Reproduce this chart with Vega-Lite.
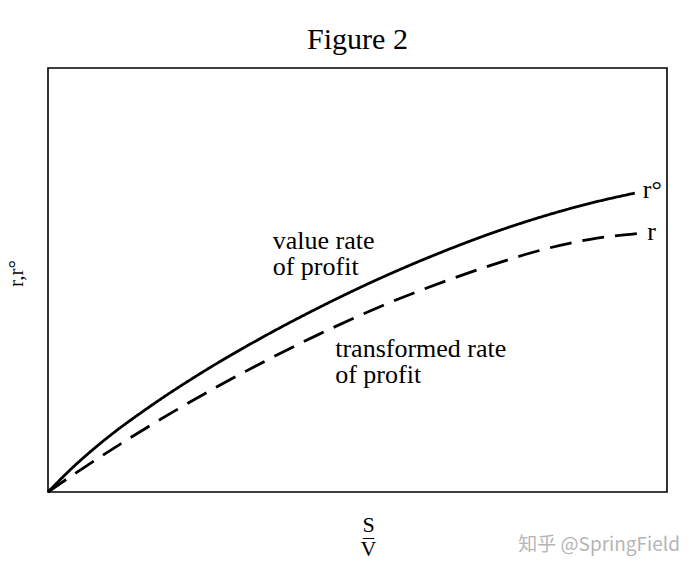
{
  "$schema": "https://vega.github.io/schema/vega-lite/v6.json",
  "width": 619,
  "height": 424,
  "autosize": {"type": "none"},
  "padding": {"left": 48, "top": 68, "right": 27, "bottom": 82},
  "background": "white",
  "title": {"text": "Figure 2", "font": "Liberation Serif", "fontSize": 30, "fontWeight": "normal", "color": "black", "anchor": "middle", "offset": 13},
  "config": {"view": {"stroke": "black", "strokeWidth": 1.6}},
  "datasets": {
    "curves": [
      {"series": "value", "x": 0, "y": 0},
      {"series": "value", "x": 4.0, "y": 5.8},
      {"series": "value", "x": 9.5, "y": 12.7},
      {"series": "value", "x": 16.5, "y": 20.2},
      {"series": "value", "x": 25.0, "y": 28.3},
      {"series": "value", "x": 33.8, "y": 35.8},
      {"series": "value", "x": 43.5, "y": 43.3},
      {"series": "value", "x": 54.1, "y": 50.7},
      {"series": "value", "x": 64.5, "y": 57.1},
      {"series": "value", "x": 71.4, "y": 60.9},
      {"series": "value", "x": 79.5, "y": 64.8},
      {"series": "value", "x": 87.6, "y": 68.1},
      {"series": "value", "x": 94.8, "y": 70.5},
      {"series": "transformed", "x": 0, "y": 0},
      {"series": "transformed", "x": 4.0, "y": 4.0},
      {"series": "transformed", "x": 13.2, "y": 12.7},
      {"series": "transformed", "x": 20.2, "y": 18.9},
      {"series": "transformed", "x": 27.3, "y": 24.8},
      {"series": "transformed", "x": 33.8, "y": 29.9},
      {"series": "transformed", "x": 43.5, "y": 37.0},
      {"series": "transformed", "x": 54.1, "y": 44.0},
      {"series": "transformed", "x": 64.5, "y": 49.9},
      {"series": "transformed", "x": 71.4, "y": 53.4},
      {"series": "transformed", "x": 79.5, "y": 57.0},
      {"series": "transformed", "x": 87.6, "y": 59.6},
      {"series": "transformed", "x": 95.6, "y": 61.0}
    ],
    "labels": [
      {"label": "value rate", "x": 36.3, "y": 57.3},
      {"label": "of profit", "x": 36.3, "y": 51.2},
      {"label": "transformed rate", "x": 46.4, "y": 31.8},
      {"label": "of profit", "x": 46.4, "y": 25.6},
      {"label": "r°", "x": 96.1, "y": 69.3},
      {"label": "r", "x": 96.8, "y": 59.4}
    ],
    "mark": [
      {"label": "知乎 @SpringField", "x": 102.1, "y": -14.0}
    ]
  },
  "layer": [
    {
      "data": {"name": "curves"},
      "mark": {"type": "line", "color": "black", "strokeWidth": 2.8, "interpolate": "monotone"},
      "encoding": {
        "x": {"field": "x", "type": "quantitative", "scale": {"domain": [0, 100]},
          "axis": {"title": ["S", "–", "V"], "titleFont": "Liberation Serif", "titleFontSize": 22, "titleFontWeight": "normal", "titleColor": "black", "titleLineHeight": 12, "titlePadding": 22, "titleX": 320, "titleAlign": "center", "labels": false, "ticks": false, "domain": false, "grid": false}},
        "y": {"field": "y", "type": "quantitative", "scale": {"domain": [0, 100]},
          "axis": {"title": "r,r°", "titleFont": "Liberation Serif", "titleFontSize": 21, "titleFontWeight": "normal", "titleColor": "black", "titlePadding": 22, "titleY": 205, "labels": false, "ticks": false, "domain": false, "grid": false}},
        "detail": {"field": "series"},
        "strokeDash": {"field": "series", "type": "nominal", "scale": {"domain": ["value", "transformed"], "range": [[1, 0], [22, 11]]}, "legend": null}
      }
    },
    {
      "data": {"name": "labels"},
      "mark": {"type": "text", "font": "Liberation Serif", "fontSize": 26, "align": "left", "baseline": "alphabetic", "color": "black"},
      "encoding": {
        "x": {"field": "x", "type": "quantitative"},
        "y": {"field": "y", "type": "quantitative"},
        "text": {"field": "label"}
      }
    },
    {
      "data": {"name": "mark"},
      "mark": {"type": "text", "font": "Noto Sans CJK SC", "fontSize": 19, "align": "right", "baseline": "alphabetic", "color": "#b5b5b5"},
      "encoding": {
        "x": {"field": "x", "type": "quantitative"},
        "y": {"field": "y", "type": "quantitative"},
        "text": {"field": "label"}
      }
    }
  ]
}
